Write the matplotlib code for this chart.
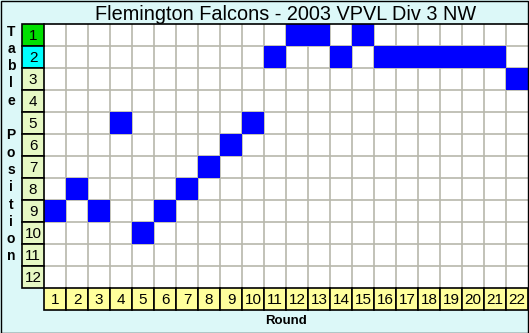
import matplotlib.pyplot as plt

# finishing position per round
rounds = list(range(1, 23))
positions = [9, 8, 9, 5, 10, 9, 8, 7, 6, 5, 2, 1, 1, 2, 1, 2, 2, 2, 2, 2, 2, 3]
table_rows = list(range(1, 13))
title = "Flemington Falcons - 2003 VPVL Div 3 NW"

plt.rcParams['font.family'] = ['Liberation Sans', 'DejaVu Sans']

W, H = 529, 333
fig = plt.figure(figsize=(W / 100, H / 100), dpi=100)
fig.patch.set_facecolor('#DCF8F8')

# grid area in pixels: x 44..528, y 24..288
ax = fig.add_axes([44 / W, 1 - 288 / H, 484 / W, 264 / H])
ax.set_facecolor('white')
ax.set_xlim(0.5, 22.5)
ax.set_ylim(12.5, 0.5)

for x in range(1, 22):
    ax.axvline(x + 0.5, color='#B8B8AC', lw=1.2, zorder=1)
for y in range(1, 12):
    ax.axhline(y + 0.5, color='#B8B8AC', lw=1.2, zorder=1)

ax.bar(rounds, 1, bottom=[p - 0.5 for p in positions], width=1,
       color='#0000FF', zorder=2)

# row label column
row_cols = ['#00E000', '#00FFFF'] + ['#E6F8C4'] * 10
ax.bar([0] * 12, 1, bottom=[r - 0.5 for r in table_rows], width=1,
       color=row_cols, edgecolor='black', lw=1.2, clip_on=False, zorder=3)
for r in table_rows:
    ax.text(0, r + 0.05, str(r), ha='center', va='center', fontsize=11,
            clip_on=False, zorder=4)

# column label row
ax.bar(rounds, 1, bottom=12.5, width=1, color='#FFFF9C',
       edgecolor='black', lw=1.2, clip_on=False, zorder=3)
for r in rounds:
    ax.text(r, 13.05, str(r), ha='center', va='center', fontsize=11,
            clip_on=False, zorder=4)

ax.set_xticks([])
ax.set_yticks([])
for s in ax.spines.values():
    s.set_visible(False)
ax.axhline(0.5, color='black', lw=1.2, zorder=3, clip_on=False)

fig.text(286 / W, 1 - 14.5 / H, title, ha='center', va='center', fontsize=14.3)
fig.text(286 / W, 1 - 321 / H, 'Round', ha='center', va='center',
         fontsize=9.5, fontweight='bold')
fig.text(11 / W, 1 - 144 / H, "T\na\nb\nl\ne\n\nP\no\ns\ni\nt\ni\no\nn",
         ha='center', va='center', fontsize=10, fontweight='bold',
         linespacing=1.30)

# outer border
fig.patches.append(plt.Rectangle((0.5 / W, 0.5 / H), 1 - 1.5 / W, 1 - 1.5 / H,
                                 transform=fig.transFigure, fill=False,
                                 edgecolor='black', lw=1))

fig.savefig('out.png', dpi=100, facecolor=fig.get_facecolor())
